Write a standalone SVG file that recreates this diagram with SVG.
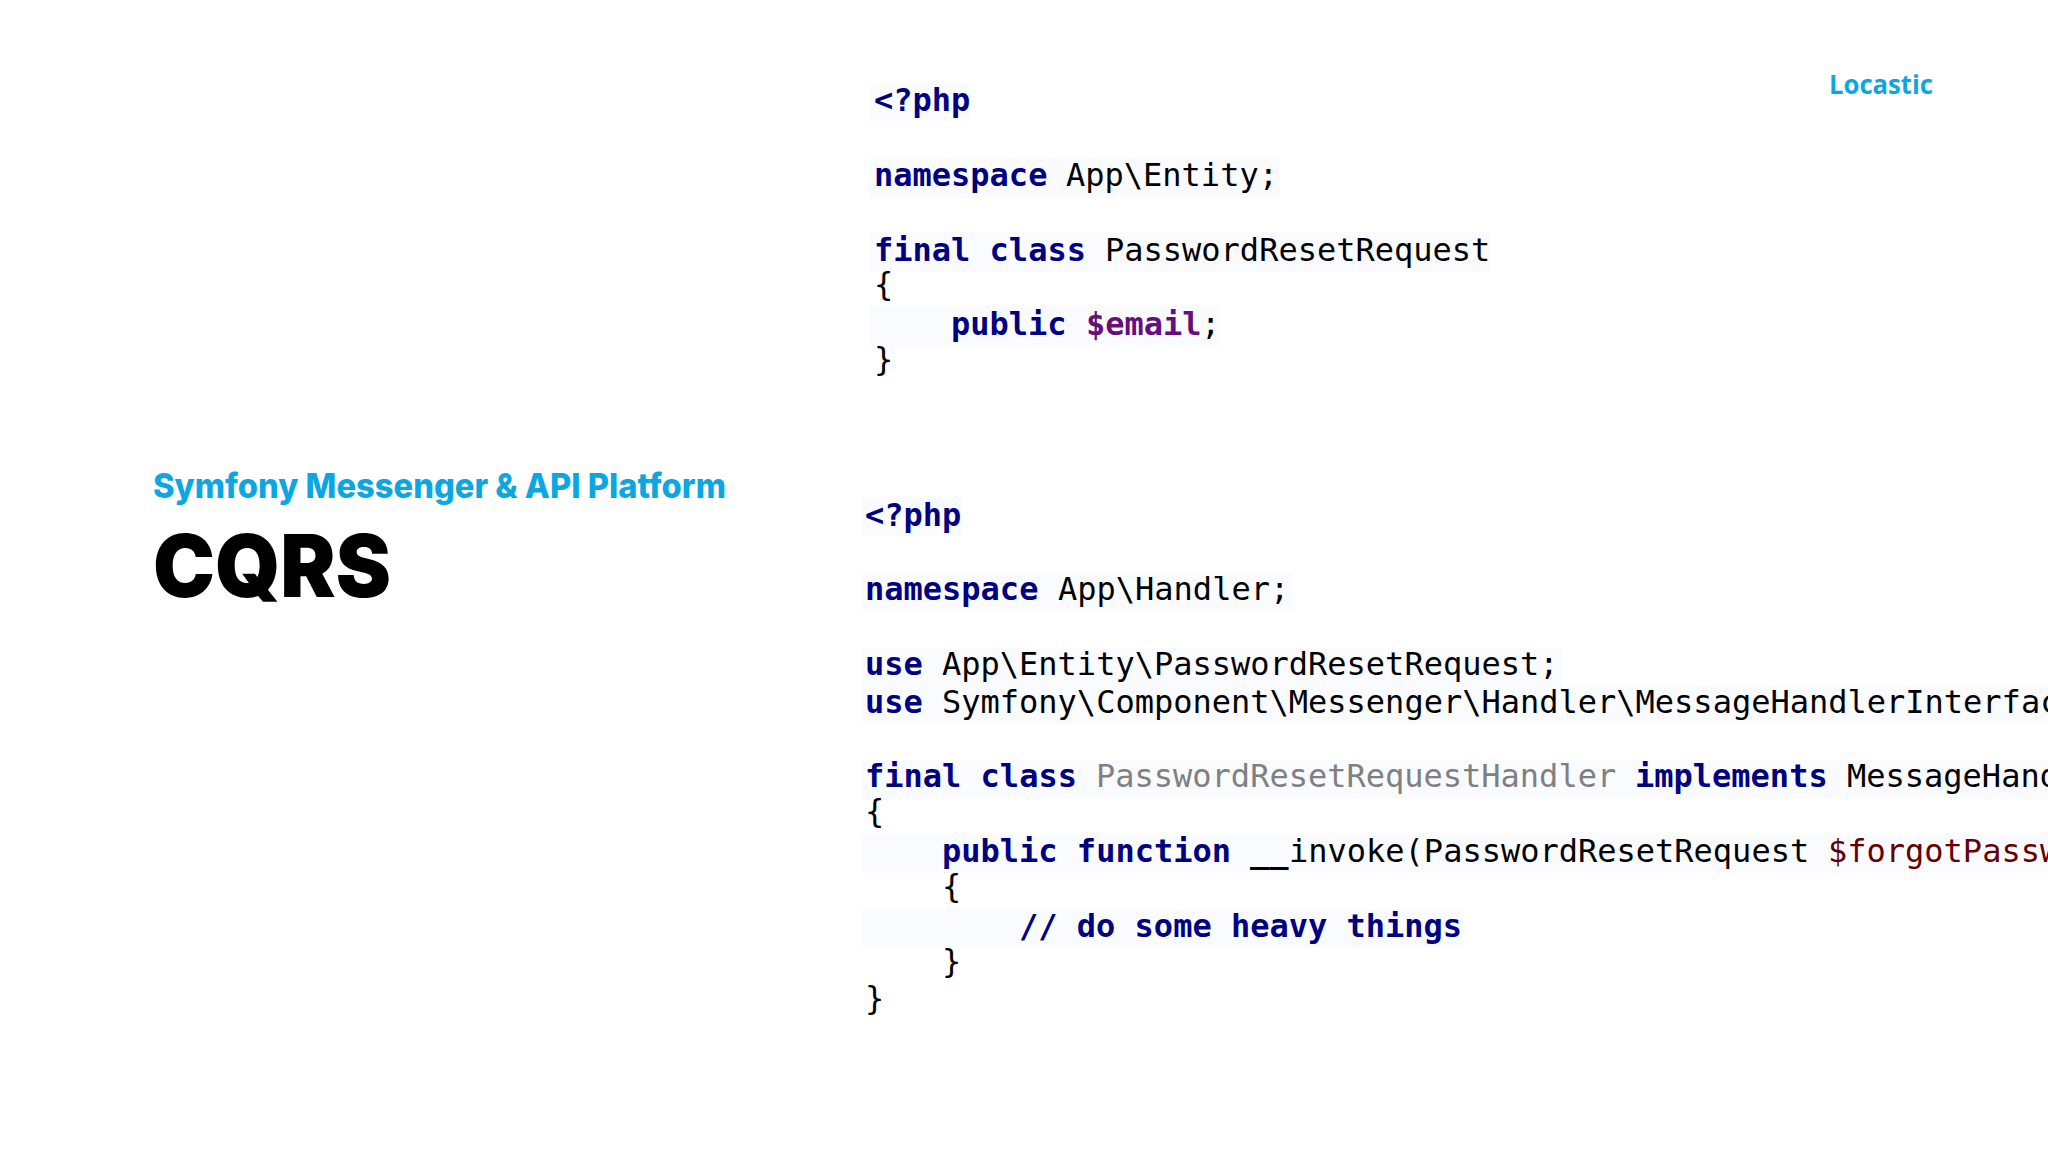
<svg xmlns="http://www.w3.org/2000/svg" width="2048" height="1152" viewBox="0 0 2048 1152">
<style>
.c{font-family:"DejaVu Sans Mono","Liberation Mono",monospace;font-size:32px;fill:#000}
.k{font-weight:700;fill:#000080}
.v{font-weight:700;fill:#660e7a}
.g{fill:#808080}
.p{fill:#660000}
.b{font-weight:700}
.h{fill:#fafbff}
</style>
<rect width="2048" height="1152" fill="#fff"/>
<g id="title">
<text x="153" y="498" font-family="Inter,'Liberation Sans',sans-serif" font-weight="800" font-size="34" fill="#0ca7e3" textLength="573" lengthAdjust="spacingAndGlyphs">Symfony Messenger &amp; API Platform</text>
<text x="153" y="597" font-family="Inter,'Liberation Sans',sans-serif" font-weight="900" font-size="87" fill="#000" textLength="238" lengthAdjust="spacingAndGlyphs">CQRS</text>
</g>
<g id="logo">
<text x="1829" y="94" font-family="'Open Sans','Liberation Sans',sans-serif" font-weight="700" font-size="27" fill="#0ca7e3" textLength="104" lengthAdjust="spacingAndGlyphs">Locastic</text>
</g>
<g id="entity-code">
<rect class="h" x="870" y="84" width="100" height="37"/>
<rect class="h" x="870" y="158" width="410" height="40"/>
<rect class="h" x="870" y="232" width="620" height="40"/>
<rect class="h" x="870" y="306" width="350" height="40"/>
<text class="c"><tspan class="k" x="874" y="111">&lt;?php</tspan></text>
<text class="c" y="186"><tspan class="k" x="874">namespace</tspan><tspan x="1066">App\Entity;</tspan></text>
<text class="c" y="261"><tspan class="k" x="874">final class</tspan><tspan x="1105">PasswordResetRequest</tspan></text>
<text class="c" x="874" y="295">{</text>
<text class="c" y="335"><tspan class="k" x="951">public</tspan><tspan class="v" x="1086">$email</tspan><tspan x="1201">;</tspan></text>
<text class="c" x="874" y="370">}</text>
</g>
<g id="handler-code">
<rect class="h" x="862" y="498" width="100" height="38"/>
<rect class="h" x="862" y="573" width="430" height="38"/>
<rect class="h" x="862" y="648" width="700" height="38"/>
<rect class="h" x="862" y="686" width="1186" height="38"/>
<rect class="h" x="862" y="760" width="1186" height="38"/>
<rect class="h" x="862" y="835" width="1186" height="38"/>
<rect class="h" x="862" y="910" width="600" height="38"/>
<text class="c"><tspan class="k" x="865" y="526">&lt;?php</tspan></text>
<text class="c" y="600"><tspan class="k" x="865">namespace</tspan><tspan x="1058">App\Handler;</tspan></text>
<text class="c" y="675"><tspan class="k" x="865">use</tspan><tspan x="942">App\Entity\PasswordResetRequest;</tspan></text>
<text class="c" y="713"><tspan class="k" x="865">use</tspan><tspan x="942">Symfony\Component\Messenger\Handler\MessageHandlerInterfac</tspan></text>
<text class="c" y="787"><tspan class="k" x="865">final class</tspan><tspan class="g" x="1096">PasswordResetRequestHandler</tspan><tspan class="k" x="1635">implements</tspan><tspan x="1847">MessageHand</tspan></text>
<text class="c" x="865" y="822">{</text>
<text class="c" y="862"><tspan class="k" x="942">public function</tspan><tspan class="b" x="1250">__</tspan><tspan x="1289">invoke(PasswordResetRequest</tspan><tspan class="p" x="1828">$forgotPassw</tspan></text>
<text class="c" x="942" y="897">{</text>
<text class="c k" x="1019" y="937">// do some heavy things</text>
<text class="c" x="942" y="972">}</text>
<text class="c" x="865" y="1009">}</text>
</g>
</svg>
